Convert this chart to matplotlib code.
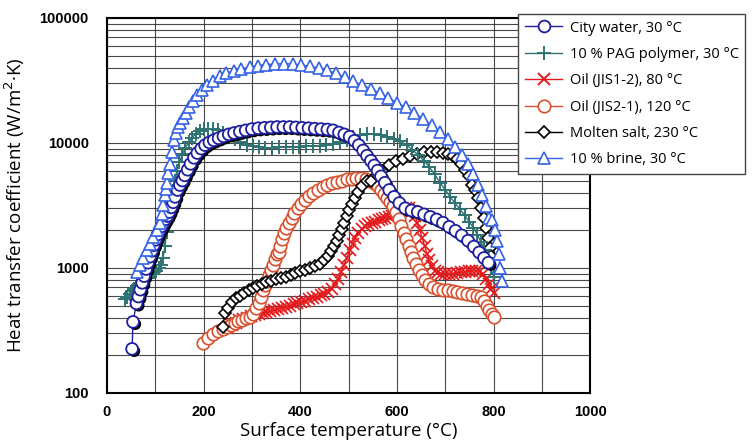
import matplotlib
matplotlib.use("Agg")
import matplotlib.pyplot as plt
import matplotlib.patheffects as pe
from matplotlib.lines import Line2D
from matplotlib.ticker import MultipleLocator, LogLocator, NullFormatter

# ---- data ----
water_t = [52, 54, 61, 65, 69, 73, 77, 81, 85, 89, 93, 97, 101, 105, 109, 113, 117, 121, 125, 129,
           133, 137, 141, 146, 151, 156, 161, 167, 173, 180, 187, 195, 203, 212, 221, 231, 241, 252,
           263, 275, 287, 300, 313, 326, 339, 352, 365, 378, 391, 404, 417, 430, 443, 456, 468, 480,
           491, 502, 512, 521, 530, 538, 546, 553, 560, 567, 575, 584, 594, 605, 617, 630, 643, 656,
           669, 682, 695, 708, 721, 734, 747, 759, 770, 780, 789]
water_h = [225, 370, 520, 590, 670, 760, 860, 980, 1100, 1230, 1370, 1520, 1680, 1850, 2000, 2150,
           2300, 2450, 2600, 2800, 3050, 3350, 3700, 4200, 4600, 5000, 5500, 6100, 6800, 7600, 8300,
           9000, 9600, 10100, 10500, 10900, 11300, 11700, 12000, 12300, 12600, 12900, 13100, 13200,
           13300, 13400, 13400, 13400, 13300, 13200, 13100, 13000, 12900, 12800, 12600, 12100, 11700,
           11200, 10400, 9600, 8700, 7900, 7200, 6600, 6000, 5400, 4800, 4200, 3700, 3300, 3000, 2880,
           2800, 2680, 2560, 2440, 2300, 2130, 1980, 1820, 1650, 1480, 1330, 1200, 1100]

pag_t = [37, 42, 47, 52, 57, 62, 67, 72, 77, 82, 87, 92, 97, 102, 107, 112, 116, 120, 124, 128, 132,
         136, 140, 145, 150, 156, 162, 169, 176, 184, 192, 201, 210, 220, 230, 241, 252, 264, 276, 289,
         302, 315, 328, 342, 356, 370, 384, 398, 412, 426, 440, 454, 468, 482, 496, 510, 524, 538, 552,
         566, 580, 594, 607, 620, 632, 644, 656, 667, 678, 689, 700, 710, 720, 730, 740, 749, 758, 766,
         774, 781, 788, 794, 800]
pag_h = [560, 590, 620, 650, 680, 710, 740, 770, 800, 830, 860, 890, 920, 950, 990, 1050, 1200, 1500,
         1950, 2600, 3300, 4100, 5000, 6000, 7000, 8100, 9100, 10100, 11000, 11800, 12400, 12800, 13000,
         12900, 12600, 12100, 11500, 10800, 10200, 9700, 9400, 9200, 9100, 9100, 9200, 9300, 9300, 9300,
         9400, 9400, 9500, 9600, 9800, 10100, 10600, 11100, 11500, 11700, 11700, 11500, 11200, 10800,
         10300, 9600, 8800, 8000, 7200, 6400, 5600, 4800, 4200, 3700, 3300, 2950, 2650, 2350, 2100, 1850,
         1600, 1400, 1200, 1000, 850]

oil12_t = [250, 258, 266, 274, 282, 290, 298, 306, 314, 322, 330, 338, 346, 354, 362, 370, 378, 386,
           394, 402, 410, 418, 426, 434, 442, 450, 458, 465, 472, 478, 484, 490, 496, 502, 508, 514, 520,
           527, 534, 541, 548, 555, 562, 569, 576, 583, 590, 597, 604, 611, 618, 625, 631, 637, 642, 647,
           652, 657, 662, 667, 672, 678, 685, 692, 700, 708, 716, 724, 732, 740, 748, 756, 764, 771, 778,
           784, 790, 795, 800]
oil12_h = [330, 350, 365, 380, 390, 400, 410, 420, 430, 435, 440, 450, 460, 470, 480, 490, 500, 510, 520,
           530, 545, 560, 575, 590, 605, 620, 640, 680, 740, 820, 920, 1050, 1200, 1380, 1560, 1740, 1900,
           2050, 2150, 2250, 2300, 2350, 2400, 2450, 2500, 2550, 2600, 2700, 2800, 2900, 3000, 3000, 2850,
           2600, 2300, 2000, 1750, 1500, 1300, 1150, 1030, 950, 920, 900, 900, 900, 900, 910, 920, 930,
           940, 950, 950, 940, 900, 820, 740, 680, 630]

oil21_t = [199, 210, 220, 230, 240, 248, 256, 264, 272, 280, 288, 296, 303, 309, 314, 319, 323, 327, 331,
           335, 339, 343, 347, 351, 355, 359, 363, 367, 371, 376, 382, 388, 395, 402, 410, 418, 427, 436,
           446, 456, 466, 476, 486, 496, 506, 516, 526, 535, 544, 552, 560, 567, 574, 580, 586, 592, 598,
           604, 609, 614, 619, 624, 629, 634, 639, 645, 651, 658, 666, 675, 685, 695, 705, 715, 725, 735,
           745, 755, 765, 773, 780, 786, 791, 796, 800]
oil21_h = [250, 275, 295, 310, 325, 337, 350, 362, 375, 385, 395, 405, 430, 480, 520, 580, 660, 730, 790,
           880, 960, 1050, 1180, 1300, 1350, 1500, 1700, 1900, 2100, 2300, 2500, 2750, 3000, 3250, 3500,
           3750, 4000, 4200, 4400, 4600, 4750, 4900, 5000, 5100, 5150, 5200, 5200, 5150, 5000, 4800, 4500,
           4200, 3900, 3600, 3350, 3100, 2800, 2450, 2150, 1900, 1700, 1500, 1330, 1200, 1080, 970, 880,
           800, 750, 700, 680, 670, 660, 650, 640, 630, 620, 610, 600, 580, 540, 500, 460, 430, 405]

salt_t = [240, 244, 250, 258, 266, 275, 284, 293, 302, 311, 320, 330, 340, 350, 360, 370, 380, 390, 400,
          410, 420, 430, 440, 449, 457, 464, 470, 476, 481, 486, 491, 496, 501, 507, 513, 520, 528, 537,
          547, 558, 570, 583, 597, 612, 627, 642, 656, 670, 683, 695, 706, 716, 725, 733, 741, 748, 755,
          762, 768, 774, 779, 784, 788, 792, 795]
salt_h = [337, 436, 480, 530, 570, 600, 630, 660, 690, 710, 740, 770, 790, 810, 830, 850, 880, 910, 940,
          970, 1000, 1040, 1080, 1150, 1250, 1370, 1500, 1650, 1850, 2050, 2300, 2600, 2900, 3250, 3650,
          4050, 4500, 5000, 5000, 5500, 6000, 6600, 7100, 7500, 7900, 8200, 8400, 8500, 8400, 8300, 8100,
          7800, 7400, 6800, 6100, 5400, 4600, 4200, 3600, 3000, 2500, 2100, 1750, 1450, 1250]

brine_t = [62, 68, 75, 82, 89, 96, 104, 110, 114, 117, 120, 122, 124, 127, 130, 134, 138, 142, 146, 151,
           157, 163, 170, 178, 187, 197, 208, 220, 233, 247, 262, 278, 295, 312, 330, 348, 366, 384, 402,
           420, 438, 456, 474, 492, 510, 528, 546, 564, 582, 600, 618, 636, 654, 672, 690, 706, 720, 734,
           746, 757, 767, 776, 784, 791, 797, 802, 806, 810, 814, 818]
brine_h = [930, 1050, 1200, 1380, 1550, 1780, 2000, 2300, 2700, 3200, 3800, 4300, 4800, 5700, 6800, 8500,
           10500, 12000, 13300, 14500, 15800, 17300, 19200, 21500, 24000, 26500, 29000, 31500, 34000,
           36000, 37500, 39000, 40500, 41500, 42300, 42800, 43000, 42800, 42000, 41000, 39800, 38000,
           36000, 33500, 31000, 29000, 27000, 25100, 23000, 21000, 19200, 17300, 15600, 13800, 12200,
           10800, 9300, 8000, 6800, 5600, 4600, 3800, 3100, 2500, 2400, 2000, 1650, 1300, 1000, 780]

labels = ["City water, 30 °C", "10 % PAG polymer, 30 °C", "Oil (JIS1-2), 80 °C",
          "Oil (JIS2-1), 120 °C", "Molten salt, 230 °C", "10 % brine, 30 °C"]

c_water, c_pag, c_red, c_org, c_blk, c_brn = "#1f1f9f", "#2f7373", "#e3191b", "#d9502e", "black", "#3562e6"

fig = plt.figure(figsize=(7.53, 4.47), dpi=100)
ax = fig.add_axes([0.142, 0.121, 0.642, 0.839])

shadow = [pe.SimplePatchShadow(offset=(1.6, -1.6), shadow_rgbFace="black", alpha=1.0), pe.Normal()]

ax.plot(oil12_t, oil12_h, "-", color=c_red, marker="x", ms=8.5, mew=1.2, lw=1, zorder=3)
ax.plot(oil21_t, oil21_h, "-", color=c_org, marker="o", ms=9, mfc="white", mew=1.2, lw=1, zorder=4)
ax.plot(salt_t, salt_h, "-", color=c_blk, marker="D", ms=6.5, mfc="white", mew=1.2, lw=1, zorder=5)
ax.plot(pag_t, pag_h, "-", color=c_pag, marker="+", ms=10, mew=1.4, lw=1, zorder=5)
# city water: line, then markers with a dark drop shadow
ax.plot(water_t, water_h, "-", color=c_water, lw=1, zorder=6)
ax.plot(water_t, water_h, ls="none", color=c_water, marker="o", ms=8.5, mfc="white", mew=1.3,
        zorder=6, path_effects=shadow)
ax.plot(brine_t, brine_h, "-", color=c_brn, marker="^", ms=8.5, mfc="white", mew=1.2, lw=1, zorder=7)

ax.set_yscale("log")
ax.set_xlim(0, 1000)
ax.set_ylim(100, 100000)
ax.set_xticks([0, 200, 400, 600, 800, 1000])
ax.xaxis.set_minor_locator(MultipleLocator(100))
ax.set_yticks([100, 1000, 10000, 100000])
ax.set_yticklabels(["100", "1000", "10000", "100000"])
ax.yaxis.set_minor_locator(LogLocator(base=10, subs=range(2, 10)))
ax.yaxis.set_minor_formatter(NullFormatter())

ax.grid(True, which="both", color="#2a2a2a", lw=0.8, alpha=0.85)
ax.set_axisbelow(True)
ax.tick_params(which="both", length=0)
ax.tick_params(axis="x", pad=9)
ax.tick_params(axis="y", pad=13)
for lab in ax.get_xticklabels() + ax.get_yticklabels():
    lab.set_family("Liberation Sans")
    lab.set_fontweight("bold")
    lab.set_fontsize(10.5)
for s in ax.spines.values():
    s.set_linewidth(1.5)
    s.set_color("black")

ax.set_xlabel("Surface temperature (°C)", family="Open Sans", fontsize=13.5, labelpad=2)
ax.set_ylabel("Heat transfer coefficient (W/m$^2$·K)", family="Open Sans", fontsize=13.5, labelpad=9)

handles = [
    Line2D([], [], color=c_water, marker="o", ms=8.5, mfc="white", mew=1.3, lw=1),
    Line2D([], [], color=c_pag, marker="+", ms=10, mew=1.4, lw=1),
    Line2D([], [], color=c_red, marker="x", ms=8.5, mew=1.4, lw=1),
    Line2D([], [], color=c_org, marker="o", ms=9, mfc="white", mew=1.2, lw=1),
    Line2D([], [], color=c_blk, marker="D", ms=6.5, mfc="white", mew=1.2, lw=1),
    Line2D([], [], color=c_brn, marker="^", ms=8.5, mfc="white", mew=1.2, lw=1),
]
leg = fig.legend(handles, labels, loc="upper left", bbox_to_anchor=(518 / 753, 1 - 14 / 447),
                 borderaxespad=0, prop={"family": "Open Sans", "size": 10.5},
                 handlelength=2.6, handletextpad=0.5, labelspacing=0.78, borderpad=0.45,
                 fancybox=False, framealpha=1, edgecolor="#444444")
leg.get_frame().set_linewidth(1.0)

fig.savefig("out.png", dpi=100)
